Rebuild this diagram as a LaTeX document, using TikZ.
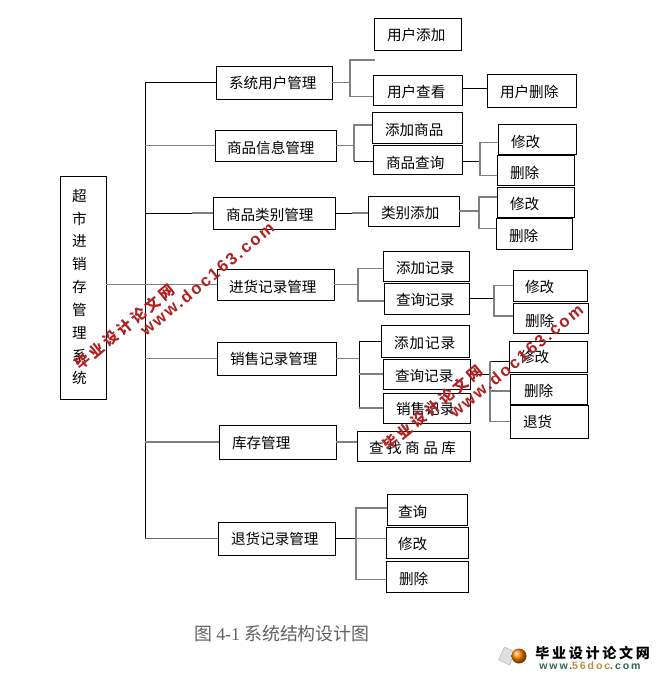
\documentclass[tikz,border=0pt]{standalone}
\usepackage{fontspec}
\setmainfont{Noto Sans CJK SC}
\newfontfamily\capfont{Liberation Serif}
\newfontfamily\markfont[LetterSpace=13]{Liberation Sans}
\newfontfamily\logofont[LetterSpace=18]{Liberation Sans}
\definecolor{markred}{RGB}{176,32,32}
\definecolor{logogreen}{RGB}{50,100,80}
\definecolor{logotan}{RGB}{190,140,60}
\tikzset{
	itembox/.style={draw=black, line width=0.55pt, inner sep=0pt, fill=white, font=\fontsize{8.3}{10}\selectfont},
	rootbox/.style={draw=black, line width=0.55pt, inner sep=0pt, font=\fontsize{8.3}{13}\selectfont},
	thinline/.style={draw=black, line width=0.55pt},
	grayline/.style={draw=black!50, line width=0.9pt},
	marktext/.style={text=markred, rotate=39.5, inner sep=0pt, font=\fontsize{8.5}{10}\bfseries\selectfont},
	markurl/.style={text=markred, rotate=39.5, inner sep=0pt, font=\fontsize{9.5}{10}\markfont\bfseries\selectfont}
}
% item box: name, x1:y1:x2:y2 in pixels, left edge and middle height of the text
\def\itemnode[#1](#2:#3:#4:#5:#6:#7)#8{
	\pgfmathsetlengthmacro\boxw{(#4-#2)*0.02cm}
	\pgfmathsetlengthmacro\boxh{(#5-#3)*0.02cm}
	\pgfmathsetlengthmacro\boxt{(#6-#2)*0.02cm}
	\pgfmathsetlengthmacro\boxr{((#3+#5)/2-#7)*0.02cm-3.15pt}
	\node[itembox, minimum width=\boxw, minimum height=\boxh] (#1) at ({(#2+#4)/2},{(#3+#5)/2}) {\makebox[\boxw][l]{\raisebox{\boxr}[0pt][0pt]{\hspace{\boxt}#8}}};
}

\begin{document}
\begin{tikzpicture}[x=0.02cm,y=-0.02cm]
		%%%%% START %%%%%
		\useasboundingbox (0,0) rectangle (663,676);
		\coordinate (trunk) at (145,82);
		
		% first and second level
		\node[rootbox, minimum width=0.92cm, minimum height=4.46cm] (root) at (83,288) {\makebox[0.92cm][l]{\hspace{0.24cm}\raisebox{-0.05cm}[0pt][0pt]{\parbox[c]{0.3cm}{超\\市\\进\\销\\存\\管\\理\\系\\统}}}};
		\itemnode[usermgr](216:66:332:99:229:83){系统用户管理}
		\itemnode[infomgr](215:130:336:161:227:148){商品信息管理}
		\itemnode[typemgr](213:197:335:229:226:215){商品类别管理}
		\itemnode[buymgr](217:269:334:300:229:287){进货记录管理}
		\itemnode[salemgr](217:342:336:375:230:359){销售记录管理}
		\itemnode[stockmgr](219:425:336:459:232:443){库存管理}
		\itemnode[backmgr](218:522:335:555:231:539){退货记录管理}
		
		% third level
		\itemnode[useradd](374:18:461:50:387:35){用户添加}
		\itemnode[userview](373:75:462:105:387:92){用户查看}
		\itemnode[userdel](487:74:576:107:500:92){用户删除}
		\itemnode[infoadd](372:112:462:143:385:130){添加商品}
		\itemnode[infoview](373:145:462:174:386:163){商品查询}
		\itemnode[infoedit](498:124:576:154:511:142){修改}
		\itemnode[infodel](497:155:574:185:510:173){删除}
		\itemnode[typeadd](368:196:459:226:381:213){类别添加}
		\itemnode[typeedit](497:187:574:217:510:204){修改}
		\itemnode[typedel](496:218:572:249:509:236){删除}
		\itemnode[buyadd](383:251:469:281:396:268){添加记录}
		\itemnode[buyview](384:283:469:314:396:300){查询记录}
		\itemnode[buyedit](513:270:587:301:525:287){修改}
		\itemnode[buydel](513:303:588:333:525:321){删除}
		\itemnode[saleadd](381:325:469:357:394:343){添\hspace{0.02cm}加\hspace{0.02cm}记\hspace{0.02cm}录}
		\itemnode[saleview](383:359:470:389:395:376){查询记录}
		\itemnode[salelist](383:393:470:423:396:409){销售记录}
		\itemnode[saleedit](509:341:587:372:520:357){修改}
		\itemnode[saledel](510:374:587:404:524:391){删除}
		\itemnode[saleback](510:405:588:438:523:422){退货}
		\itemnode[stockfind](357:431:470:461:369:448){查\hspace{0.07cm}找\hspace{0.07cm}商\hspace{0.07cm}品\hspace{0.07cm}库}
		\itemnode[backview](387:494:467:525:398:512){查询}
		\itemnode[backedit](386:527:468:558:398:544){修改}
		\itemnode[backdel](386:561:468:592:399:579){删除}
		
		% trunk
		\draw[thinline] (usermgr.west) -- (usermgr.west -| trunk) -- (backmgr.west -| trunk);
		\draw[grayline] (infomgr.west) -- (infomgr.west -| trunk);
		\draw[thinline] (typemgr.west) -- (typemgr.west -| trunk);
		\draw[grayline] (typemgr.west) -- ++(-21,0);
		\draw[grayline] (root.east |- buymgr.west) -- (buymgr.west);
		\draw[grayline] (salemgr.west) -- (salemgr.west -| trunk);
		\draw[grayline] (stockmgr.west) -- (stockmgr.west -| trunk);
		\draw[draw=black!60, line width=0.6pt] (backmgr.west) -- (backmgr.west -| trunk);
		
		% user branch
		\coordinate (userfork) at (350,60);
		\coordinate (userstub) at (375,60);
		\draw[grayline] (usermgr.east) -- (usermgr.east -| userfork);
		\draw[grayline] (userstub) -- (userfork) -- ([yshift=-0.13cm]userview.west -| userfork) -- ([yshift=-0.13cm]userview.west);
		\draw[thinline] ([yshift=0.04cm]userview.east) -- ([yshift=0.04cm]userview.east -| userdel.west);
		
		% info branch
		\coordinate (infofork) at (354,145);
		\draw[grayline] (infomgr.east) -- (infomgr.east -| infofork);
		\draw[grayline] ([yshift=0.05cm]infoadd.west) -- ([yshift=0.05cm]infoadd.west -| infofork) -- ([yshift=-0.03cm]infoview.west -| infofork);
		\draw[thinline] ([yshift=-0.03cm]infoview.west) -- ([yshift=-0.03cm]infoview.west -| infofork);
		\coordinate (infofork2) at (480,161);
		\draw[thinline] ([yshift=-0.03cm]infoview.east) -- ([yshift=-0.03cm]infoview.east -| infofork2);
		\draw[grayline] ([yshift=-0.07cm]infoedit.west) -- ([yshift=-0.07cm]infoedit.west -| infofork2) -- ([yshift=-0.11cm]infodel.west -| infofork2) -- ([yshift=-0.11cm]infodel.west);
		
		% type branch
		\draw[thinline] (typemgr.east) -- (typemgr.east -| typeadd.west);
		\draw[grayline] (typemgr.east -| typeadd.west) -- ++(-16,0);
		\coordinate (typefork) at (479,212);
		\draw[grayline] (typeadd.east) -- (typeadd.east -| typefork);
		\draw[grayline] ([yshift=0.1cm]typeedit.west) -- ([yshift=0.1cm]typeedit.west -| typefork) -- ([yshift=0.1cm]typedel.west -| typefork) -- ([yshift=0.1cm]typedel.west);
		
		% buy branch
		\coordinate (buyfork) at (358,284);
		\draw[grayline] (buymgr.east) -- (buymgr.east -| buyfork);
		\draw[grayline] ([yshift=-0.05cm]buyadd.west) -- ([yshift=-0.05cm]buyadd.west -| buyfork) -- ([yshift=-0.05cm]buyview.west -| buyfork) -- ([yshift=-0.05cm]buyview.west);
		\coordinate (buyfork2) at (494,298);
		\draw[thinline] (buyview.east) -- (buyview.east -| buyfork2);
		\draw[grayline] (buyedit.west) -- (buyedit.west -| buyfork2) -- ([yshift=0.04cm]buydel.west -| buyfork2) -- ([yshift=0.04cm]buydel.west);
		
		% sale branch
		\coordinate (salefork) at (359,359);
		\draw[grayline] (salemgr.east) -- (salemgr.east -| salefork);
		\draw[thinline] (saleadd.west) -- (saleadd.west -| salefork) -- (salelist.west -| salefork);
		\draw[grayline] (saleview.west) -- (saleview.west -| salefork);
		\draw[grayline] (salelist.west) -- (salelist.west -| salefork);
		\coordinate (salefork2) at (490,376);
		\draw[thinline] (saleview.east) -- (saleview.east -| salefork2);
		\draw[thinline] ([yshift=-0.09cm]saleedit.west) -- ([yshift=-0.09cm]saleedit.west -| salefork2);
		\draw[grayline] ([yshift=-0.09cm]saleedit.west -| salefork2) -- (saleback.west -| salefork2) -- (saleback.west);
		\draw[grayline] ([yshift=-0.04cm]saledel.west) -- ([yshift=-0.04cm]saledel.west -| salefork2);
		
		% stock and back branches
		\draw[grayline] (stockmgr.east) -- (stockmgr.east -| stockfind.west);
		\coordinate (backfork) at (356,539);
		\draw[thinline] (backmgr.east) -- (backmgr.east -| backfork);
		\draw[grayline] (backmgr.east -| backfork) -- (backmgr.east -| backedit.west);
		\draw[grayline] ([yshift=0.03cm]backview.west) -- ([yshift=0.03cm]backview.west -| backfork) -- ([yshift=-0.06cm]backdel.west -| backfork) -- ([yshift=-0.06cm]backdel.west);
		
		% caption
		\node[inner sep=0pt, text=black!62, anchor=west, font=\fontsize{10.2}{12}\selectfont] (caption) at (194,634) {图 {\capfont 4-1} 系统结构设计图};
		
		% watermarks
		\node[marktext] (mark1) at (125,327) {毕\hspace{0.065cm}业\hspace{0.065cm}设\hspace{0.065cm}计\hspace{0.065cm}论\hspace{0.065cm}文\hspace{0.065cm}网};
		\node[markurl] (url1) at (207,279) {www.doc163.com};
		\node[marktext] (mark2) at (433,408) {毕\hspace{0.065cm}业\hspace{0.065cm}设\hspace{0.065cm}计\hspace{0.065cm}论\hspace{0.065cm}文\hspace{0.065cm}网};
		\node[markurl] (url2) at (516,361) {www.doc163.com};
		
		% logo
		\draw[fill=black!12, draw=black!25, rotate around={-25:(507,656)}] (501,649) rectangle (513,663);
		\shade[ball color=orange] (519,656) circle (7.5);
		\node[inner sep=0pt, anchor=west, font=\fontsize{8}{10}\bfseries\selectfont] (logotext) at (535,653) {毕\hspace{0.054cm}业\hspace{0.054cm}设\hspace{0.054cm}计\hspace{0.054cm}论\hspace{0.054cm}文\hspace{0.054cm}网};
		\node[inner sep=0pt, anchor=west, text=logogreen, font=\fontsize{6}{8}\logofont\bfseries\selectfont] (logourl) at (539,666) {www.{\color{logotan}56doc}.com};
		%%%%% END %%%%%
	\end{tikzpicture}
\end{document}
